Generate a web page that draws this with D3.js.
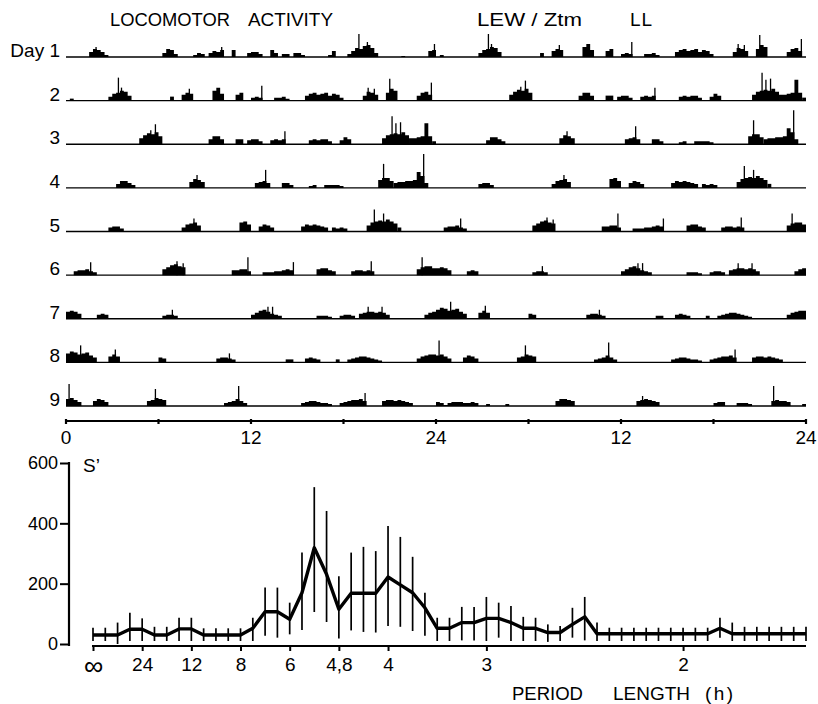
<!DOCTYPE html>
<html>
<head>
<meta charset="utf-8">
<script src="https://cdn.jsdelivr.net/npm/d3@7"></script>
<style>
  body { margin: 0; background: #fff; }
  svg { display: block; }
  text { font-family: "Liberation Sans", Arial, sans-serif; fill: #000; }
</style>
</head>
<body>
<svg id="chart" width="818" height="704"></svg>
<script>
// ---------- Actogram data: activity per 15-min bin, bouts as [start hour, [counts...]] ----------
const binHours = 0.25;

const boutsDay1 = [[1.5,[5,8,7,5,2]],[6.25,[4,8,7,3]],[8.25,[2,4,3]],[9.25,[4,6,5,7]],[10.75,[7]],[11.75,[4,5,5,3]],[13.25,[7,4]],[14.0,[3,3]],[14.75,[4,4,2]],[17.0,[2,6]],[18.25,[3,6,9,8,11,12,9,4]],[21.75,[1]],[23.5,[6,7]]];
const spikesDay1 = [[1.95,10],[10.1,10],[19.0,23],[19.55,15],[23.9,13]];

const boutsDay2 = [[0.25,[2]],[2.75,[4,7,8,10,9,5]],[6.75,[4]],[7.5,[6,8,7]],[9.5,[10,13,7]],[11.0,[6,8]],[12.0,[3,4,3]],[13.5,[3,3,4,2]],[15.5,[5,7,8,6,7,8,5,7,6,3]],[19.25,[5,9,8,6]],[20.75,[8,12,10]],[22.75,[5,8,9,6]]];
const spikesDay2 = [[3.4,23],[3.6,13],[8.0,12],[12.7,15],[19.6,13],[20.0,12],[21.0,22],[23.7,18]];

const boutsDay3 = [[4.75,[6,9,11,10,12,8]],[9.25,[5,8,8,5]],[11.0,[5,5]],[11.75,[4,5,5,3]],[13.25,[4,5,4,5]],[15.75,[4,5,4,5,5,3]],[17.75,[4,7,5]],[20.5,[6,9,10,11,10,12,9]],[22.25,[6,6,7,8,21,8]],[23.75,[3]]];
const spikesDay3 = [[5.5,14],[5.8,20],[14.2,13],[21.15,28],[21.4,21],[21.7,22]];

const boutsDay4 = [[3.25,[4,7,7,5,3]],[8.0,[6,9,8,6]],[12.25,[5,6,7,5]],[14.0,[5,5,3]],[15.75,[2,3]],[16.75,[3,3,3,3,2]],[20.25,[8,10,10,7]],[21.25,[5,6,6,7,7,8,16,12,5]]];
const spikesDay4 = [[8.5,13],[12.95,18],[20.6,24],[23.2,34]];

const boutsDay5 = [[2.75,[4,5,5,3]],[7.5,[4,7,8,9,6]],[11.25,[9,10,7]],[12.5,[5,7,6,4]],[15.25,[5,7,6,7,6,5,4]],[17.25,[4,3,4,3]],[19.5,[6,9,10,11,10,12,10,8]],[21.5,[4]]];
const spikesDay5 = [[8.3,13],[20.0,22],[20.6,18]];

const boutsDay6 = [[0.5,[4,5,5,6,4,3]],[6.25,[6,8,10,11,9,8]],[10.75,[5,5,6,6,4]],[12.75,[3,3,3,4,4,5,6,5]],[16.25,[6,7,7,5,4]],[18.5,[4,5,5,4,5,4]],[22.75,[6,8,9,9,7]]];
const spikesDay6 = [[1.6,13],[7.2,14],[7.6,12],[11.8,18],[14.75,13],[19.8,14],[23.1,18]];

const boutsDay7 = [[0.0,[7,8,7,5]],[2.0,[4,5,4]],[6.25,[3,4,4,3]],[12.0,[4,6,8,9,7,5,4,3]],[16.25,[3,3,3,2]],[17.75,[3,4,4,3]],[19.0,[5,6,7,7,6,7,6,4]],[23.25,[4,6,7]]];
const spikesDay7 = [[6.9,9],[13.1,12],[13.4,12],[19.6,12],[20.5,12]];

const boutsDay8 = [[0.0,[9,11,10,8,9,10,7,5]],[2.75,[6,8,6]],[6.0,[5,4]],[9.75,[4,5,5,4,3]],[14.25,[3,3]],[15.5,[4,5,4,3]],[17.5,[3]],[18.25,[3,4,5,6,6,5,4,3,2]],[22.75,[4,6,7,8,8]]];
const spikesDay8 = [[0.95,17],[3.2,13],[10.6,9]];

const boutsDay9 = [[0.0,[7,8,6,4]],[1.75,[5,7,6,4]],[5.25,[5,6,8,7,6]],[10.25,[3,4,5,7,5,3]],[15.25,[3,4,5,5,4,3,3,2]],[17.75,[3,4,5,6,6,7,5]],[20.5,[5,6,6,5,6,5,4,3]]];
const spikesDay9 = [[0.2,22],[5.8,17],[11.2,20],[19.4,13]];

const boutsDay10 = [[0.0,[4,3,1,3,4,4,4,3,3,4,3]],[3.25,[2]],[4.5,[2]],[7.75,[5,7,7,6,5]],[13.0,[5,6,7,6,5,4]],[18.0,[3,4,4]],[19.5,[3,3,3,2]],[21.75,[5,6,5,5,4]],[23.75,[2]]];
const spikesDay10 = [[13.4,10],[21.9,20]];

const dayLabels = ["Day 1", "2", "3", "4", "5", "6", "7", "8", "9"];
const hourTickLabels = ["0", "12", "24", "12", "24"];

// ---------- Periodogram data: S' at harmonic frequencies (0.25 cycles/day apart) ----------
const freqStep = 0.25;
const sPrime = [30,30,30,49,49,30,30,50,50,30,30,30,30,52,107,107,82,170,319,231,115,168,168,168,222,196,170,120,52,52,71,71,85,85,71,52,52,38,38,65,90,34,34,34,34,34,34,34,34,34,34,52,34,34,34,34,34,34,34];
const sHigh  = [54,54,71,104,85,57,57,87,87,52,52,52,52,87,187,187,137,303,520,441,225,303,322,308,391,355,289,170,87,87,123,123,156,137,126,90,87,65,60,120,156,71,54,54,54,54,54,54,54,54,54,87,71,57,57,57,57,57,57];
const sLow   = [10,10,0,10,10,10,10,10,10,10,10,10,10,10,27,21,32,46,106,73,18,45,40,38,60,57,43,27,10,10,12,12,10,21,10,10,10,7,10,21,12,10,10,10,10,10,10,10,10,10,10,21,10,10,10,10,10,10,10];
const periodTickFreqs  = [0, 1, 2, 3, 4, 5, 6, 8, 12];
const periodTickLabels = ["\u221E", "24", "12", "8", "6", "4,8", "4", "3", "2"];
const sTicks = [0, 200, 400, 600];

// ---------- Drawing ----------
const svg = d3.select("#chart");
const days = [boutsDay1, boutsDay2, boutsDay3, boutsDay4, boutsDay5, boutsDay6, boutsDay7, boutsDay8, boutsDay9, boutsDay10];
const spikes = [spikesDay1, spikesDay2, spikesDay3, spikesDay4, spikesDay5, spikesDay6, spikesDay7, spikesDay8, spikesDay9, spikesDay10];

const xAct = d3.scaleLinear().domain([0, 48]).range([66, 806]);
const rowY = d3.scaleLinear().domain([0, 8]).range([57, 406]);
const hAct = d3.scaleLinear().domain([0, 40]).range([0, 40]);

// titles
const title = svg.append("g").attr("font-size", 19);
title.append("text").attr("x", 110).attr("y", 26).attr("textLength", 120).attr("lengthAdjust", "spacingAndGlyphs").text("LOCOMOTOR");
title.append("text").attr("x", 248).attr("y", 26).attr("textLength", 85).attr("lengthAdjust", "spacingAndGlyphs").text("ACTIVITY");
title.append("text").attr("x", 477).attr("y", 26).attr("textLength", 105).attr("lengthAdjust", "spacingAndGlyphs").text("LEW / Ztm");
title.append("text").attr("x", 630).attr("y", 26).attr("textLength", 22).attr("lengthAdjust", "spacing").text("LL");

const area = d3.area().curve(d3.curveStepAfter)
  .x(d => xAct(d.t)).y0(d => d.base).y1(d => d.base - hAct(d.v));

for (let r = 0; r < 9; r++) {
  const base = rowY(r);
  const g = svg.append("g");
  g.append("line").attr("x1", xAct(0)).attr("x2", xAct(48))
    .attr("y1", base).attr("y2", base).attr("stroke", "#000").attr("stroke-width", 1.3);
  // double plot: day r on the left half, day r+1 on the right half
  [[r, 0], [r + 1, 24]].forEach(([d, off]) => {
    days[d].forEach(([start, vals]) => {
      const pts = vals.map((v, j) => ({ t: off + start + j * binHours, v, base }));
      pts.push({ t: off + start + vals.length * binHours, v: vals[vals.length - 1], base });
      g.append("path").attr("d", area(pts)).attr("fill", "#000");
    });
    spikes[d].forEach(([t, v]) => {
      g.append("line").attr("x1", xAct(off + t)).attr("x2", xAct(off + t))
        .attr("y1", base).attr("y2", base - hAct(v))
        .attr("stroke", "#000").attr("stroke-width", 1.3);
    });
  });
  g.append("text").attr("x", 60).attr("y", base).attr("text-anchor", "end")
    .attr("font-size", 19).text(dayLabels[r]);
}

// hour axis
const axY = 421;
svg.append("line").attr("x1", xAct(0)).attr("x2", xAct(48)).attr("y1", axY).attr("y2", axY)
  .attr("stroke", "#000").attr("stroke-width", 2.2);
svg.selectAll(".hTick").data(d3.range(0, 49, 6)).join("line")
  .attr("x1", d => xAct(d)).attr("x2", d => xAct(d))
  .attr("y1", axY - 2).attr("y2", axY + 3).attr("stroke", "#000").attr("stroke-width", 2.2);
svg.selectAll(".hLab").data(hourTickLabels).join("text")
  .attr("x", (d, i) => xAct(i * 12)).attr("y", 444).attr("text-anchor", "middle")
  .attr("font-size", 19).text(d => d);

// periodogram
const xP = d3.scaleLinear().domain([0, 14.5]).range([93, 806]);
const yP = d3.scaleLinear().domain([0, 600]).range([644, 463]);
const pts = sPrime.map((v, k) => ({ f: k * freqStep, v, lo: sLow[k], hi: sHigh[k] }));

const yAxis = d3.axisLeft(yP).tickValues(sTicks).tickSize(9).tickPadding(2).tickSizeOuter(0);
const gy = svg.append("g").attr("transform", "translate(69,0)").call(yAxis);
gy.select(".domain").remove();
gy.selectAll(".tick line").attr("stroke-width", 2);
gy.selectAll(".tick text").attr("font-size", 18).attr("font-family", "Liberation Sans, Arial, sans-serif").attr("fill", "#000");
svg.append("line").attr("x1", 69).attr("x2", 69).attr("y1", yP(600) - 1).attr("y2", 646)
  .attr("stroke", "#000").attr("stroke-width", 2.2);
svg.append("text").attr("x", 83).attr("y", 472).attr("font-size", 19).text("S\u2019");

const xAxis = d3.axisBottom(xP).tickValues(periodTickFreqs)
  .tickFormat((d, i) => periodTickLabels[i]).tickSize(5).tickPadding(7).tickSizeOuter(0);
const gx = svg.append("g").attr("transform", "translate(0,646)").call(xAxis);
gx.select(".domain").remove();
gx.selectAll(".tick line").attr("stroke-width", 2);
gx.selectAll(".tick text").attr("font-size", 19).attr("font-family", "Liberation Sans, Arial, sans-serif").attr("fill", "#000");
// the infinity sign is drawn larger, as wide as a two-digit label
gx.selectAll(".tick text").filter(d => d === 0)
  .attr("font-family", "DejaVu Sans, sans-serif").attr("font-size", 27).attr("dy", "0.62em");
svg.append("line").attr("x1", 92).attr("x2", 806).attr("y1", 646).attr("y2", 646)
  .attr("stroke", "#000").attr("stroke-width", 2.2);

svg.selectAll(".err").data(pts).join("line")
  .attr("x1", d => xP(d.f)).attr("x2", d => xP(d.f))
  .attr("y1", d => yP(d.lo)).attr("y2", d => yP(d.hi))
  .attr("stroke", "#000").attr("stroke-width", 1.7);

svg.append("path").datum(pts)
  .attr("d", d3.line().x(d => xP(d.f)).y(d => yP(d.v)))
  .attr("fill", "none").attr("stroke", "#000").attr("stroke-width", 3.4)
  .attr("stroke-linejoin", "round");

const xl = svg.append("g").attr("font-size", 19);
xl.append("text").attr("x", 512).attr("y", 700).attr("textLength", 71).attr("lengthAdjust", "spacingAndGlyphs").text("PERIOD");
xl.append("text").attr("x", 613).attr("y", 700).attr("textLength", 77).attr("lengthAdjust", "spacingAndGlyphs").text("LENGTH");
xl.append("text").attr("x", 705).attr("y", 700).attr("textLength", 28).attr("lengthAdjust", "spacing").text("(h)");
</script>
</body>
</html>
